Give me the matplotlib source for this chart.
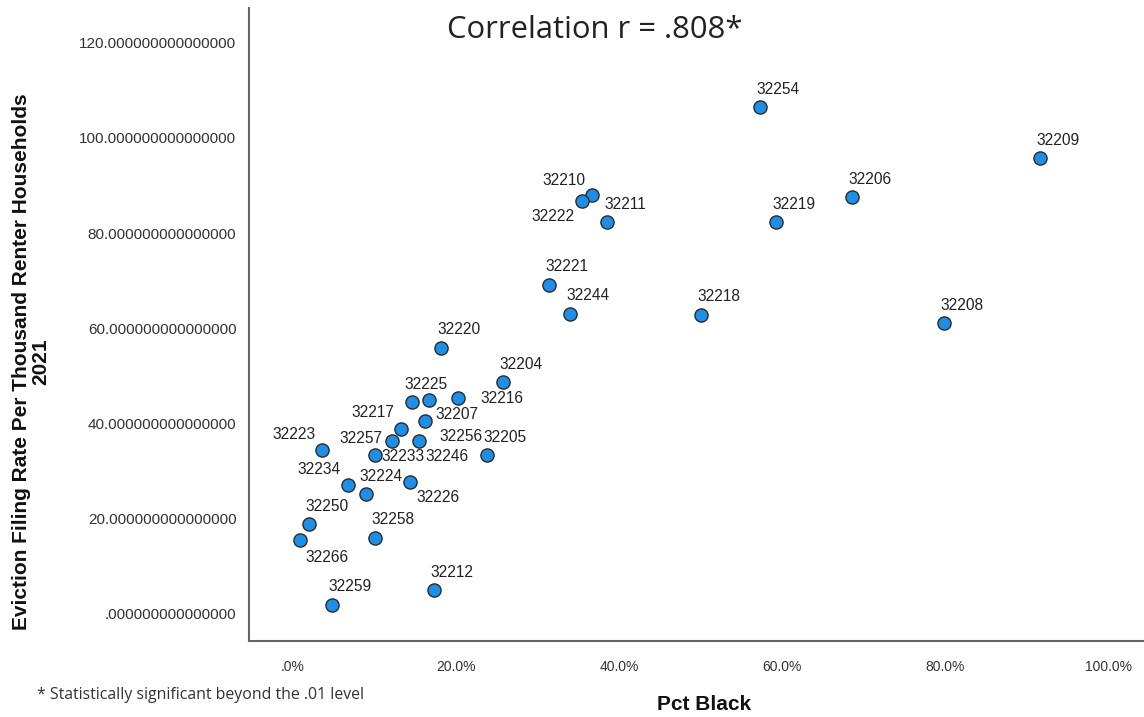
import matplotlib
matplotlib.use("Agg")
import matplotlib.pyplot as plt
from matplotlib.ticker import FuncFormatter, FixedLocator

# zip codes, pct black (0-100) and eviction filing rate per 1000 renter households
zips = ["32254", "32209", "32206", "32219", "32210", "32222", "32211", "32221",
        "32244", "32218", "32208", "32220", "32204", "32216", "32246", "32225",
        "32217", "32207", "32257", "32256", "32233", "32205", "32223", "32234",
        "32224", "32226", "32250", "32266", "32258", "32212", "32259"]
pct_black = [57.3, 91.7, 68.6, 59.2, 36.7, 35.5, 38.5, 31.4,
             34.0, 50.0, 79.9, 18.2, 25.7, 20.2, 16.7, 14.6,
             13.25, 16.2, 12.2, 15.5, 10.1, 23.8, 3.5, 6.8,
             9.0, 14.4, 2.0, 0.86, 10.1, 17.3, 4.8]
eviction_rate = [106.4, 95.7, 87.5, 82.3, 88.0, 86.8, 82.3, 69.1,
                 63.1, 62.8, 61.1, 55.9, 48.7, 45.4, 45.0, 44.5,
                 38.9, 40.6, 36.4, 36.4, 33.3, 33.3, 34.5, 27.1,
                 25.2, 27.7, 18.8, 15.5, 16.0, 5.0, 1.9]

x_ticks = [0, 20, 40, 60, 80, 100]
y_ticks = [0, 20, 40, 60, 80, 100, 120]

title = "Correlation r = .808*"
note = "* Statistically significant beyond the .01 level"
x_label = "Pct Black"
y_label = "Eviction Filing Rate Per Thousand Renter Households\n2021"

# label offsets (pixels, right/down) - most labels sit up and to the right
default_off = (18, -18)
label_off = {
    "32216": (44, 1), "32217": (-28, -16), "32207": (32, -6), "32223": (-28, -15),
    "32257": (-32, -2), "32256": (42, -4), "32246": (18, 57), "32233": (28, 1),
    "32234": (-29, -15), "32266": (27, 17), "32210": (-28, -15), "32222": (-29, 16),
    "32226": (28, 15), "32224": (15, -17), "32225": (14, -18),
}

narrow = ["Liberation Sans Narrow", "Liberation Sans", "DejaVu Sans"]

fig = plt.figure(figsize=(11.44, 7.17), dpi=100)
ax = fig.add_axes([249 / 1144, 76 / 717, 895 / 1144, 633 / 717])

ax.scatter(pct_black, eviction_rate, s=90, color="#1E8FE6",
           edgecolors="#2b2b2b", linewidths=1.0, zorder=3)

for z, xv, yv in zip(zips, pct_black, eviction_rate):
    dx, dy = label_off.get(z, default_off)
    ax.annotate(z, (xv, yv), xytext=(dx, -dy), textcoords="offset pixels",
                ha="center", va="center", fontsize=11.2,
                family=["Liberation Sans", "DejaVu Sans"], color="#222222")

ax.set_xlim(-5.4, 104.4)
ax.set_ylim(-5.7, 127.3)
ax.xaxis.set_major_locator(FixedLocator(x_ticks))
ax.yaxis.set_major_locator(FixedLocator(y_ticks))


def fmt_pct(v, pos):
    s = f"{v:.1f}%"
    return s[1:] if s.startswith("0") else s


def fmt_rate(v, pos):
    s = f"{v:.15f}"
    return s[1:] if s.startswith("0") else s


ax.xaxis.set_major_formatter(FuncFormatter(fmt_pct))
ax.yaxis.set_major_formatter(FuncFormatter(fmt_rate))
ax.tick_params(length=0, colors="#333333")
ax.tick_params(axis="x", pad=14, labelsize=10)
ax.tick_params(axis="y", pad=9, labelsize=11)
for lab in ax.get_xticklabels():
    lab.set_family(narrow)
for lab in ax.get_yticklabels():
    lab.set_family(["Liberation Sans", "DejaVu Sans"])

for side in ["top", "right"]:
    ax.spines[side].set_visible(False)
for side in ["left", "bottom"]:
    ax.spines[side].set_color("#666666")
    ax.spines[side].set_linewidth(1.5)

fig.text(595 / 1144, 1 - 30 / 717, title, ha="center", va="center",
         fontsize=22.3, family=["Open Sans", "DejaVu Sans"], color="#222222")
fig.text(37 / 1144, 1 - 695 / 717, note, ha="left", va="center",
         fontsize=11.4, family=["Open Sans", "DejaVu Sans"], color="#333333")
fig.text(704 / 1144, 1 - 704 / 717, x_label, ha="center", va="center",
         fontsize=15, fontweight="bold", family=narrow, color="#111111")
fig.text(31 / 1144, 1 - 362 / 717, y_label, ha="center", va="center",
         rotation=90, fontsize=15, fontweight="bold", family=narrow,
         color="#111111", linespacing=1.05)

fig.savefig("out.png", dpi=100)
